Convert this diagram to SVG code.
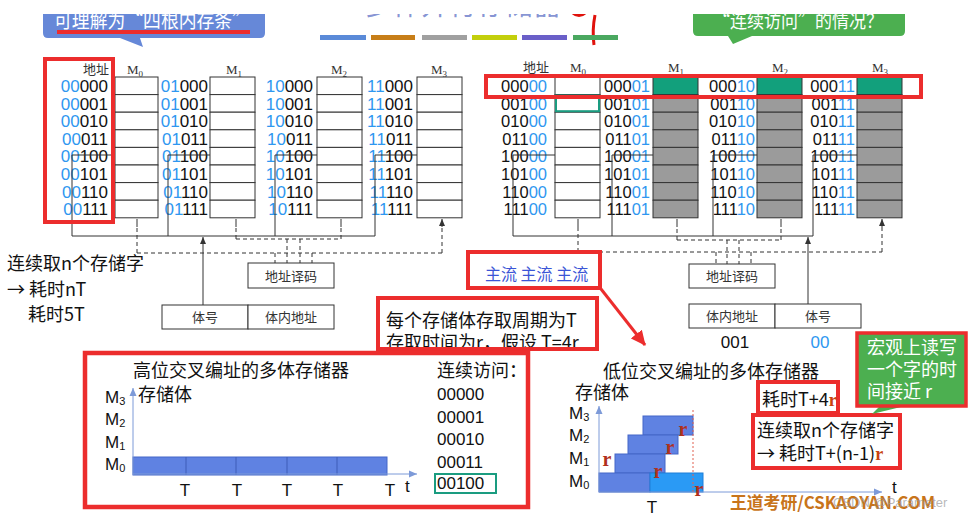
<svg xmlns="http://www.w3.org/2000/svg" width="970" height="519" viewBox="0 0 970 519">
<defs>
<style>
.cjk{font-family:"Noto Sans CJK SC","Noto Sans",sans-serif}
.ser{font-family:"Liberation Serif","Noto Sans CJK SC",serif}
.num{font-family:"Liberation Sans",Arial,sans-serif}
.b{fill:#2f97f0}
.cell{fill:#fff;stroke:#333;stroke-width:1}
.gcell{fill:#9b9b9b;stroke:#333;stroke-width:1}
.tcell{fill:#12a07c;stroke:#333;stroke-width:1}
.red{fill:none;stroke:#ec2d2d;stroke-width:4}
.ln{stroke:#333;stroke-width:1;fill:none}
.dash{stroke:#333;stroke-width:1;fill:none;stroke-dasharray:4 3}
.box{fill:#fff;stroke:#333;stroke-width:1}
.lbl{font-family:"Noto Sans CJK SC",sans-serif;font-size:13px;fill:#333}
.addr{font-family:"Liberation Sans",Arial,sans-serif;font-size:17px;fill:#111;text-anchor:end}
.addr2{font-family:"Liberation Sans",Arial,sans-serif;font-size:16.5px;fill:#111;text-anchor:end}
.hd{font-family:"Liberation Serif",serif;font-size:13px;fill:#333}
.t18{font-family:"Noto Sans CJK SC",sans-serif;font-size:18px;fill:#111}
.rr{font-family:"Liberation Serif",serif;font-size:20px;font-weight:bold;fill:#b0301c}
.ml{font-family:"Liberation Sans",sans-serif;font-size:17px;fill:#111}
</style>
<marker id="ah" markerWidth="8" markerHeight="8" refX="7" refY="4" orient="auto" markerUnits="userSpaceOnUse"><path d="M0,1 L7,4 L0,7 z" fill="#333"/></marker>
<marker id="bh" markerWidth="9" markerHeight="9" refX="8" refY="4.5" orient="auto" markerUnits="userSpaceOnUse"><path d="M0,1 L8,4.5 L0,8 z" fill="#7d9ad8"/></marker>
<marker id="rh" markerWidth="16" markerHeight="16" refX="14" refY="8" orient="auto" markerUnits="userSpaceOnUse"><path d="M0,1 L15,8 L0,15 z" fill="#ec2d2d"/></marker>
</defs>

<!-- top area -->
<g id="title">
<text x="463" y="15" font-size="28" text-anchor="middle" class="cjk" fill="#6678c8" fill-opacity="0.8">多体并行存储器</text>
<path d="M573,13 Q579,18 585,13" stroke="#e0120c" stroke-width="3" fill="none"/>
<path d="M595,15 Q592,30 594,45" stroke="#e0120c" stroke-width="3" fill="none"/>
<rect x="320" y="35" width="46" height="5" fill="#5a8ad8"/>
<rect x="371" y="35" width="44" height="5" fill="#c77e18"/>
<rect x="422" y="35" width="45" height="5" fill="#a0a0a0"/>
<rect x="472" y="35" width="45" height="5" fill="#c3cf0c"/>
<rect x="522" y="35" width="45" height="5" fill="#6a5fc8"/>
<rect x="573" y="35" width="45" height="5" fill="#4aa860"/>
</g>
<g id="bubble-blue">
<path d="M43,5 H265 V33 Q265,38 260,38 H140 L143,47 L120,38 H48 Q43,38 43,33 Z" fill="#6688d8"/>
<text x="54" y="28" font-size="20" class="cjk" fill="#fff" textLength="196" lengthAdjust="spacingAndGlyphs">可理解为“四根内存条”</text>
<rect x="57" y="30" width="193" height="4" fill="#ec2d2d"/>
</g>
<g id="bubble-green">
<path d="M693,5 H905 V31 Q905,36 900,36 H752 L733,44 L728,36 H698 Q693,36 693,31 Z" fill="#4caf50"/>
<text x="713" y="28" font-size="19" class="cjk" fill="#fff" textLength="170" lengthAdjust="spacingAndGlyphs">“连续访问”的情况？</text>
</g>
<rect x="0" y="0" width="970" height="14" fill="#fff"/>

<!-- left high-order table -->
<g id="left-addr-header">
<text x="83" y="74" class="lbl" font-family="Liberation Serif">地址</text>
</g>
<g id="left-M0">
<text x="127" y="74" class="hd">M<tspan font-size="9" dy="3">0</tspan></text>
<rect class="cell" x="115" y="77" width="43" height="17.6"/><rect class="cell" x="115" y="94.6" width="43" height="17.6"/><rect class="cell" x="115" y="112.2" width="43" height="17.6"/><rect class="cell" x="115" y="129.8" width="43" height="17.6"/><rect class="cell" x="115" y="147.4" width="43" height="17.6"/><rect class="cell" x="115" y="165" width="43" height="17.6"/><rect class="cell" x="115" y="182.6" width="43" height="17.6"/><rect class="cell" x="115" y="200.2" width="43" height="17.6"/>
<text class="addr" x="108" y="92"><tspan class="b">00</tspan>000</text>
<text class="addr" x="108" y="109.6"><tspan class="b">00</tspan>001</text>
<text class="addr" x="108" y="127.2"><tspan class="b">00</tspan>010</text>
<text class="addr" x="108" y="144.8"><tspan class="b">00</tspan>011</text>
<text class="addr" x="108" y="162.4"><tspan class="b">00</tspan>100</text>
<text class="addr" x="108" y="180"><tspan class="b">00</tspan>101</text>
<text class="addr" x="108" y="197.6"><tspan class="b">00</tspan>110</text>
<text class="addr" x="108" y="215.2"><tspan class="b">00</tspan>111</text>
</g>
<g id="left-M1">
<text x="226" y="74" class="hd">M<tspan font-size="9" dy="3">1</tspan></text>
<rect class="cell" x="210" y="77" width="45" height="17.6"/><rect class="cell" x="210" y="94.6" width="45" height="17.6"/><rect class="cell" x="210" y="112.2" width="45" height="17.6"/><rect class="cell" x="210" y="129.8" width="45" height="17.6"/><rect class="cell" x="210" y="147.4" width="45" height="17.6"/><rect class="cell" x="210" y="165" width="45" height="17.6"/><rect class="cell" x="210" y="182.6" width="45" height="17.6"/><rect class="cell" x="210" y="200.2" width="45" height="17.6"/>
<text class="addr" x="208" y="92"><tspan class="b">01</tspan>000</text>
<text class="addr" x="208" y="109.6"><tspan class="b">01</tspan>001</text>
<text class="addr" x="208" y="127.2"><tspan class="b">01</tspan>010</text>
<text class="addr" x="208" y="144.8"><tspan class="b">01</tspan>011</text>
<text class="addr" x="208" y="162.4"><tspan class="b">01</tspan>100</text>
<text class="addr" x="208" y="180"><tspan class="b">01</tspan>101</text>
<text class="addr" x="208" y="197.6"><tspan class="b">01</tspan>110</text>
<text class="addr" x="208" y="215.2"><tspan class="b">01</tspan>111</text>
</g>
<g id="left-M2">
<text x="331" y="74" class="hd">M<tspan font-size="9" dy="3">2</tspan></text>
<rect class="cell" x="317" y="77" width="45" height="17.6"/><rect class="cell" x="317" y="94.6" width="45" height="17.6"/><rect class="cell" x="317" y="112.2" width="45" height="17.6"/><rect class="cell" x="317" y="129.8" width="45" height="17.6"/><rect class="cell" x="317" y="147.4" width="45" height="17.6"/><rect class="cell" x="317" y="165" width="45" height="17.6"/><rect class="cell" x="317" y="182.6" width="45" height="17.6"/><rect class="cell" x="317" y="200.2" width="45" height="17.6"/>
<text class="addr" x="313" y="92"><tspan class="b">10</tspan>000</text>
<text class="addr" x="313" y="109.6"><tspan class="b">10</tspan>001</text>
<text class="addr" x="313" y="127.2"><tspan class="b">10</tspan>010</text>
<text class="addr" x="313" y="144.8"><tspan class="b">10</tspan>011</text>
<text class="addr" x="313" y="162.4"><tspan class="b">10</tspan>100</text>
<text class="addr" x="313" y="180"><tspan class="b">10</tspan>101</text>
<text class="addr" x="313" y="197.6"><tspan class="b">10</tspan>110</text>
<text class="addr" x="313" y="215.2"><tspan class="b">10</tspan>111</text>
</g>
<g id="left-M3">
<text x="431" y="74" class="hd">M<tspan font-size="9" dy="3">3</tspan></text>
<rect class="cell" x="417" y="77" width="45" height="17.6"/><rect class="cell" x="417" y="94.6" width="45" height="17.6"/><rect class="cell" x="417" y="112.2" width="45" height="17.6"/><rect class="cell" x="417" y="129.8" width="45" height="17.6"/><rect class="cell" x="417" y="147.4" width="45" height="17.6"/><rect class="cell" x="417" y="165" width="45" height="17.6"/><rect class="cell" x="417" y="182.6" width="45" height="17.6"/><rect class="cell" x="417" y="200.2" width="45" height="17.6"/>
<text class="addr" x="413" y="92"><tspan class="b">11</tspan>000</text>
<text class="addr" x="413" y="109.6"><tspan class="b">11</tspan>001</text>
<text class="addr" x="413" y="127.2"><tspan class="b">11</tspan>010</text>
<text class="addr" x="413" y="144.8"><tspan class="b">11</tspan>011</text>
<text class="addr" x="413" y="162.4"><tspan class="b">11</tspan>100</text>
<text class="addr" x="413" y="180"><tspan class="b">11</tspan>101</text>
<text class="addr" x="413" y="197.6"><tspan class="b">11</tspan>110</text>
<text class="addr" x="413" y="215.2"><tspan class="b">11</tspan>111</text>
</g>
<g id="left-decoder"><rect class="box" x="248" y="263" width="86" height="25"/><text x="291" y="281" class="lbl" text-anchor="middle">地址译码</text></g>
<g id="left-addrreg">
<rect class="box" x="162" y="305" width="86" height="24"/><text x="205" y="322" class="lbl" text-anchor="middle">体号</text>
<rect class="box" x="248" y="305" width="86" height="24"/><text x="291" y="322" class="lbl" text-anchor="middle">体内地址</text>
</g>

<!-- right low-order table -->
<g id="right-addr-header"><text x="523" y="72" class="lbl" font-family="Liberation Serif">地址</text></g>
<g id="right-M0">
<text x="570" y="72" class="hd">M<tspan font-size="9" dy="3">0</tspan></text>
<rect class="cell" x="555" y="77" width="45" height="17.6"/><rect class="cell" x="555" y="94.6" width="45" height="17.6"/><rect class="cell" x="555" y="112.2" width="45" height="17.6"/><rect class="cell" x="555" y="129.8" width="45" height="17.6"/><rect class="cell" x="555" y="147.4" width="45" height="17.6"/><rect class="cell" x="555" y="165" width="45" height="17.6"/><rect class="cell" x="555" y="182.6" width="45" height="17.6"/><rect class="cell" x="555" y="200.2" width="45" height="17.6"/>
<rect x="556" y="95.6" width="43" height="15.6" fill="none" stroke="#1a9c80" stroke-width="2"/>
<text class="addr2" x="547" y="92">000<tspan class="b">00</tspan></text>
<text class="addr2" x="547" y="109.6">001<tspan class="b">00</tspan></text>
<text class="addr2" x="547" y="127.2">010<tspan class="b">00</tspan></text>
<text class="addr2" x="547" y="144.8">011<tspan class="b">00</tspan></text>
<text class="addr2" x="547" y="162.4">100<tspan class="b">00</tspan></text>
<text class="addr2" x="547" y="180">101<tspan class="b">00</tspan></text>
<text class="addr2" x="547" y="197.6">110<tspan class="b">00</tspan></text>
<text class="addr2" x="547" y="215.2">111<tspan class="b">00</tspan></text>
</g>
<g id="right-M1">
<text x="668" y="72" class="hd">M<tspan font-size="9" dy="3">1</tspan></text>
<rect class="tcell" x="653" y="77" width="45" height="17.6"/><rect class="gcell" x="653" y="94.6" width="45" height="17.6"/><rect class="gcell" x="653" y="112.2" width="45" height="17.6"/><rect class="gcell" x="653" y="129.8" width="45" height="17.6"/><rect class="gcell" x="653" y="147.4" width="45" height="17.6"/><rect class="gcell" x="653" y="165" width="45" height="17.6"/><rect class="gcell" x="653" y="182.6" width="45" height="17.6"/><rect class="gcell" x="653" y="200.2" width="45" height="17.6"/>
<text class="addr2" x="650" y="92">000<tspan class="b">01</tspan></text>
<text class="addr2" x="650" y="109.6">001<tspan class="b">01</tspan></text>
<text class="addr2" x="650" y="127.2">010<tspan class="b">01</tspan></text>
<text class="addr2" x="650" y="144.8">011<tspan class="b">01</tspan></text>
<text class="addr2" x="650" y="162.4">100<tspan class="b">01</tspan></text>
<text class="addr2" x="650" y="180">101<tspan class="b">01</tspan></text>
<text class="addr2" x="650" y="197.6">110<tspan class="b">01</tspan></text>
<text class="addr2" x="650" y="215.2">111<tspan class="b">01</tspan></text>
</g>
<g id="right-M2">
<text x="772" y="72" class="hd">M<tspan font-size="9" dy="3">2</tspan></text>
<rect class="tcell" x="757" y="77" width="45" height="17.6"/><rect class="gcell" x="757" y="94.6" width="45" height="17.6"/><rect class="gcell" x="757" y="112.2" width="45" height="17.6"/><rect class="gcell" x="757" y="129.8" width="45" height="17.6"/><rect class="gcell" x="757" y="147.4" width="45" height="17.6"/><rect class="gcell" x="757" y="165" width="45" height="17.6"/><rect class="gcell" x="757" y="182.6" width="45" height="17.6"/><rect class="gcell" x="757" y="200.2" width="45" height="17.6"/>
<text class="addr2" x="755" y="92">000<tspan class="b">10</tspan></text>
<text class="addr2" x="755" y="109.6">001<tspan class="b">10</tspan></text>
<text class="addr2" x="755" y="127.2">010<tspan class="b">10</tspan></text>
<text class="addr2" x="755" y="144.8">011<tspan class="b">10</tspan></text>
<text class="addr2" x="755" y="162.4">100<tspan class="b">10</tspan></text>
<text class="addr2" x="755" y="180">101<tspan class="b">10</tspan></text>
<text class="addr2" x="755" y="197.6">110<tspan class="b">10</tspan></text>
<text class="addr2" x="755" y="215.2">111<tspan class="b">10</tspan></text>
</g>
<g id="right-M3">
<text x="872" y="72" class="hd">M<tspan font-size="9" dy="3">3</tspan></text>
<rect class="tcell" x="857" y="77" width="45" height="17.6"/><rect class="gcell" x="857" y="94.6" width="45" height="17.6"/><rect class="gcell" x="857" y="112.2" width="45" height="17.6"/><rect class="gcell" x="857" y="129.8" width="45" height="17.6"/><rect class="gcell" x="857" y="147.4" width="45" height="17.6"/><rect class="gcell" x="857" y="165" width="45" height="17.6"/><rect class="gcell" x="857" y="182.6" width="45" height="17.6"/><rect class="gcell" x="857" y="200.2" width="45" height="17.6"/>
<text class="addr2" x="855" y="92">000<tspan class="b">11</tspan></text>
<text class="addr2" x="855" y="109.6">001<tspan class="b">11</tspan></text>
<text class="addr2" x="855" y="127.2">010<tspan class="b">11</tspan></text>
<text class="addr2" x="855" y="144.8">011<tspan class="b">11</tspan></text>
<text class="addr2" x="855" y="162.4">100<tspan class="b">11</tspan></text>
<text class="addr2" x="855" y="180">101<tspan class="b">11</tspan></text>
<text class="addr2" x="855" y="197.6">110<tspan class="b">11</tspan></text>
<text class="addr2" x="855" y="215.2">111<tspan class="b">11</tspan></text>
</g>
<g id="right-decoder"><rect class="box" x="689" y="264" width="86" height="24"/><text x="732" y="281" class="lbl" text-anchor="middle">地址译码</text></g>
<g id="right-addrreg">
<rect class="box" x="689" y="304" width="86" height="24"/><text x="732" y="321" class="lbl" text-anchor="middle">体内地址</text>
<rect class="box" x="775" y="304" width="86" height="24"/><text x="818" y="321" class="lbl" text-anchor="middle">体号</text>
<text x="735" y="348" class="num" font-size="17" text-anchor="middle" fill="#111">001</text>
<text x="820" y="348" class="num" font-size="17" text-anchor="middle" fill="#2f97f0">00</text>
</g>

<!-- connectors -->
<g id="connectors">
<path class="ln" d="M72,236 V155 H115 M168,236 V155 H210 M275,236 V155 H317 M375,236 V155 H417 M72,236 H375"/>
<path class="ln" d="M203,305 V237" marker-end="url(#ah)"/>
<path class="dash" d="M137,253 V226 M236,239 V226 M341,239 V226 M442,253 V226 M236,239 H341 M137,253 H442 M275,253 V263 M287,239 V263 M300,239 V263 M312,253 V263"/>
<path class="ln" d="M137,227 V219 M236,227 V219 M341,227 V219 M442,227 V219" marker-end="url(#ah)"/>
<path class="ln" d="M513,236 V155 H555 M612,236 V155 H653 M713,236 V155 H757 M813,236 V155 H857 M513,236 H813"/>
<path class="ln" d="M808,304 V237" marker-end="url(#ah)"/>
<path class="dash" d="M578,252 V226 M677,240 V226 M781,240 V226 M882,252 V226 M677,240 H781 M578,252 H882 M716,252 V264 M727,240 V264 M739,240 V264 M751,252 V264"/>
<path class="ln" d="M578,227 V219 M677,227 V219 M781,227 V219 M882,227 V219" marker-end="url(#ah)"/>
</g>

<!-- red highlight boxes on tables -->
<rect class="red" x="45" y="59" width="68" height="163" stroke-width="4"/>
<rect class="red" x="486" y="76" width="435" height="21" stroke-width="3.5"/>

<!-- left notes -->
<g id="note-left">
<text x="7" y="270" class="t18">连续取n个存储字</text>
<text x="7" y="296" class="t18">→ 耗时nT</text>
<text x="28" y="321" class="t18">耗时5T</text>
</g>
<g id="note-mainstream">
<rect class="red" x="468" y="252" width="132" height="36" stroke-width="3.5"/>
<text x="485" y="280" class="cjk" font-size="16" fill="#3b55d6">主流 主流 主流</text>
<path d="M601,289 L645,345" stroke="#ec2d2d" stroke-width="3" marker-end="url(#rh)"/>
</g>
<g id="note-cycle">
<rect x="378" y="298" width="219" height="51" fill="#fff"/>
<text x="386" y="327" class="t18" font-size="18.5">每个存储体存取周期为T</text>
<text x="386" y="349" class="t18" font-size="18.5">存取时间为r，假设 T=4r</text>
<rect class="red" x="378" y="298" width="219" height="51" stroke-width="4"/>
</g>

<!-- bottom-left chart -->
<g id="chart-high">
<rect x="85" y="353" width="443" height="154" fill="#fff" stroke="#ec2d2d" stroke-width="4.5"/>
<text x="133" y="377" class="t18" font-size="18.5">高位交叉编址的多体存储器</text>
<text x="437" y="377" class="t18" font-size="17">连续访问：</text>
<text x="138" y="401" class="t18">存储体</text>
<text x="105" y="403" class="ml">M<tspan font-size="11" dy="2">3</tspan></text>
<text x="105" y="425" class="ml">M<tspan font-size="11" dy="2">2</tspan></text>
<text x="105" y="448" class="ml">M<tspan font-size="11" dy="2">1</tspan></text>
<text x="105" y="470" class="ml">M<tspan font-size="11" dy="2">0</tspan></text>
<rect x="133" y="457" width="254" height="18" fill="#5f82e2" stroke="#4566c8" stroke-width="1"/>
<path d="M186,457 V475 M236,457 V475 M287,457 V475 M337,457 V475" stroke="#3f5cb8" stroke-width="1"/>
<path d="M133,475 V388" stroke="#7d9ad8" stroke-width="1" marker-end="url(#bh)"/>
<path d="M133,474 H417" stroke="#7d9ad8" stroke-width="1" marker-end="url(#bh)"/>
<g class="ml" text-anchor="middle"><text x="185" y="496">T</text><text x="237" y="496">T</text><text x="287" y="496">T</text><text x="338" y="496">T</text><text x="390" y="496">T</text></g>
<text x="405" y="492" class="ml">t</text>
<g class="ml" font-size="16.5"><text x="437" y="400">00000</text><text x="437" y="423">00001</text><text x="437" y="445">00010</text><text x="437" y="468">00011</text><text x="437" y="489">00100</text></g>
<rect x="435" y="474" width="61" height="19" fill="none" stroke="#1a9c80" stroke-width="2"/>
</g>

<!-- bottom-right chart -->
<g id="chart-low">
<text x="603" y="378" class="t18" font-size="18.5">低位交叉编址的多体存储器</text>
<text x="575" y="399" class="t18">存储体</text>
<text x="569" y="419" class="ml">M<tspan font-size="11" dy="2">3</tspan></text>
<text x="569" y="441" class="ml">M<tspan font-size="11" dy="2">2</tspan></text>
<text x="569" y="464" class="ml">M<tspan font-size="11" dy="2">1</tspan></text>
<text x="569" y="487" class="ml">M<tspan font-size="11" dy="2">0</tspan></text>
<rect x="643" y="416" width="50" height="19" fill="#5f82e2" stroke="#4566c8"/>
<rect x="628" y="435" width="50" height="19" fill="#5f82e2" stroke="#4566c8"/>
<rect x="615" y="454" width="50" height="19" fill="#5f82e2" stroke="#4566c8"/>
<rect x="599" y="473" width="51" height="19" fill="#5f82e2" stroke="#4566c8"/>
<rect x="650" y="473" width="53" height="19" fill="#2a9af5" stroke="#1f7fd8"/>
<path d="M693,410 V492" stroke="#e06050" stroke-width="1" stroke-dasharray="2 2"/>
<path d="M599,492 V406" stroke="#7d9ad8" stroke-width="1" marker-end="url(#bh)"/>
<path d="M599,492 H882" stroke="#7d9ad8" stroke-width="1" marker-end="url(#bh)"/>
<text x="683" y="436" class="rr" text-anchor="middle">r</text>
<text x="670" y="454" class="rr" text-anchor="middle">r</text>
<text x="658" y="478" class="rr" text-anchor="middle">r</text>
<text x="699" y="496" class="rr" text-anchor="middle">r</text>
<text x="607" y="466" class="rr" text-anchor="middle">r</text>
<text x="652" y="513" class="ml" text-anchor="middle">T</text>
<text x="892" y="493" class="ml">t</text>
</g>
<g id="note-time">
<rect class="red" x="758" y="382" width="80" height="31" stroke-width="3.5"/>
<text x="762" y="406" class="t18">耗时T+4<tspan fill="#c8420f" font-family="Liberation Serif" font-weight="bold">r</tspan></text>
</g>
<g id="note-n">
<rect class="red" x="753" y="415" width="147" height="53" stroke-width="3.5"/>
<text x="757" y="437" class="t18">连续取n个存储字</text>
<text x="757" y="460" class="t18">→ 耗时T+(n-1)<tspan fill="#c8420f" font-family="Liberation Serif" font-weight="bold">r</tspan></text>
</g>
<g id="note-green">
<path d="M880,406 L905,406 L872,414 Z" fill="#4caf50"/>
<rect x="857" y="333" width="109" height="73" fill="#4caf50" stroke="#ec2d2d" stroke-width="3.5"/>
<text x="867" y="354" class="cjk" font-size="18" fill="#fff">宏观上读写</text>
<text x="867" y="376" class="cjk" font-size="18" fill="#fff">一个字的时</text>
<text x="867" y="398" class="cjk" font-size="18" fill="#fff">间接近 r</text>
</g>
<g id="footer">
<text x="730" y="509" class="cjk" font-size="17" font-weight="bold" fill="#c8741a" textLength="205" lengthAdjust="spacingAndGlyphs">王道考研/CSKAOYAN.COM</text>
<text x="833" y="507" class="num" font-size="13" fill="#999" fill-opacity="0.7">CSDN @Parameter</text>
</g>
</svg>
